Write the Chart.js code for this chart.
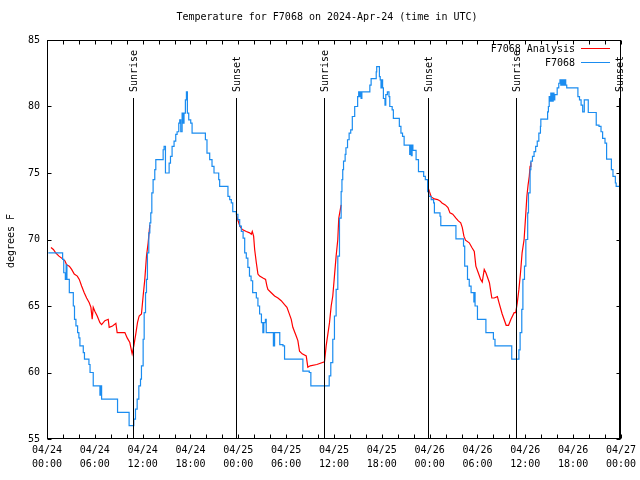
<!DOCTYPE html>
<html>
<head>
<meta charset="utf-8">
<script src="https://cdn.jsdelivr.net/npm/chart.js@4/dist/chart.umd.min.js"></script>
<style>
  html, body { margin: 0; padding: 0; background: #fff; }
  canvas { display: block; }
</style>
</head>
<body>
<canvas id="myChart" width="640" height="480"></canvas>
<script>
// hours since 04/24 00:00 UTC
var blueHours = [0.17, 1.84, 1.96, 2.1, 2.3, 2.4, 2.5, 2.8, 3.3, 3.45, 3.63, 3.84, 4.0, 4.13, 4.55, 4.7, 5.26, 5.4, 5.8, 6.43, 6.64, 6.75, 6.85, 8.85, 10.3, 10.89,
  11.1, 11.31, 11.52, 11.73, 11.85, 12.06, 12.19, 12.36, 12.48, 12.6, 12.77, 12.9, 13.02, 13.15, 13.31, 13.52, 13.65, 14.36, 14.57, 14.69, 14.86, 15.19, 15.32, 15.49,
  15.69, 15.94, 16.15, 16.32, 16.53, 16.65, 16.78, 16.95, 17.07, 17.19, 17.36, 17.49, 17.61, 17.78, 18.03, 18.2, 19.66, 19.87, 20.07, 20.41, 20.7, 20.95, 21.54, 21.66,
  22.5, 22.7, 22.92, 23.12, 23.3, 23.75, 23.95, 24.17, 24.38, 24.6, 24.8, 25.0, 25.2, 25.4, 25.6, 25.8, 26.26, 26.46, 26.67, 26.9, 27.08, 27.2, 27.4, 27.5, 28.26, 28.4,
  28.55, 28.97, 29.2, 29.6, 29.8, 31.9, 32.1, 32.9, 33.1, 35.2, 35.4, 35.6, 35.85, 36.06, 36.27, 36.48, 36.69, 36.9, 37.0, 37.1, 37.2, 37.4, 37.5, 37.7, 37.9, 38.1,
  38.3, 38.6, 38.97, 39.1, 39.2, 39.3, 39.4, 39.5, 40.4, 40.5, 40.66, 41.07, 41.3, 41.36, 41.6, 41.7, 41.8, 41.9, 42.0, 42.1, 42.2, 42.4, 42.5, 42.7, 42.9, 43.0, 43.3,
  43.45, 43.99, 44.2, 44.4, 44.6, 44.8, 45.4, 45.5, 45.6, 45.7, 45.8, 45.9, 46.3, 46.6, 47.1, 47.25, 47.46, 47.75, 47.9, 48.2, 48.5, 48.6, 49.1, 49.3, 49.4, 51.2, 51.3,
  52.1, 52.25, 52.4, 52.6, 52.75, 52.97, 53.2, 53.5, 53.55, 53.6, 53.7, 53.8, 54.0, 54.85, 55.06, 55.8, 56.0, 56.2, 58.1, 58.3, 59.0, 59.2, 59.35, 59.56, 59.7, 59.9,
  60.07, 60.3, 60.4, 60.6, 60.7, 60.9, 61.1, 61.3, 61.5, 61.7, 61.9, 61.95, 62.6, 62.8, 62.9, 63.0, 63.1, 63.2, 63.35, 63.5, 63.6, 63.7, 64.0, 64.2, 64.35, 64.45,
  64.55, 64.65, 64.75, 64.85, 64.95, 65.07, 65.2, 66.4, 66.6, 66.8, 67.0, 67.2, 67.4, 67.7, 67.9, 68.75, 68.9, 69.25, 69.5, 69.7, 70.0, 70.2, 70.6, 70.8, 71.0, 71.3,
  71.4, 71.8];
var blueTemps = [69, 69, 68.5, 67.5, 67, 68.1, 67, 66, 65, 64, 63.5, 63, 62.6, 62, 61.5, 61, 60.6, 60, 59, 59, 58.3, 59, 58, 57, 56, 56.5,
  57.25, 58, 59, 59.5, 60.5, 62.5, 64.5, 66, 67, 69, 70.5, 71.25, 72, 73.5, 74.5, 75.25, 76, 76, 76.75, 77, 75, 75, 75.75, 76.25,
  77, 77.4, 77.9, 78.1, 78.75, 79, 78.1, 79.5, 78.75, 79.5, 80.5, 81.1, 79.5, 79, 78.75, 78, 78, 77.5, 76.5, 76, 75.5, 75, 74.5, 74,
  74, 73.25, 73, 72.75, 72.1, 71.9, 71.5, 71, 70.6, 70.1, 69, 68.6, 67.9, 67.25, 66.9, 66, 65.6, 65, 64.4, 63.75, 63, 63.75, 64, 63, 63, 62,
  63, 63, 62.1, 62, 61, 61, 60.1, 60, 59, 59, 59.75, 60.75, 62.5, 64.25, 66.25, 68.75, 71.6, 73.6, 74.5, 75.25, 75.9, 76.4, 76.9, 77.5, 78, 78.25,
  79.25, 80, 80.75, 81.1, 80.75, 81.1, 80.6, 81.1, 81.1, 81.6, 82.1, 82.1, 82.6, 83, 83, 82.25, 82, 81.4, 82, 81.4, 80.6, 80.1, 80.9, 81.1, 80.75, 80, 79.75,
  79.1, 79.1, 78.5, 78, 77.75, 77.1, 77.1, 76.4, 77.1, 76.3, 77.1, 76.7, 76, 75.1, 75.1, 74.75, 74.5, 73.6, 73.25, 73, 72.75, 72, 72, 71.75, 71.05, 71.05, 70.05,
  70.05, 69.5, 68, 68, 67, 66.5, 66, 66, 65.3, 66, 65, 65, 64, 64, 63, 63, 62.5, 62, 62, 61, 61, 61.7, 63, 64.75, 67, 68,
  70, 72, 73.5, 75.25, 75.9, 76.25, 76.6, 77, 77.4, 78, 78.5, 79.05, 79.05, 79.6, 80, 80.75, 80.4, 81, 80.4, 81, 80.5, 80.9, 81.4, 81.75, 82, 81.6,
  82, 81.6, 82, 81.6, 82, 81.6, 81.4, 81.4, 80.75, 80.5, 80.1, 79.6, 80.5, 80.5, 79.55, 79.55, 78.6, 78.5, 78.1, 77.6, 77.25, 76.05, 76.05, 75.25, 74.75, 74.25,
  74, 74];

var redHours = [0.5, 0.8, 1.09, 1.5, 1.84, 2.25, 2.46, 2.8, 3.09, 3.42, 3.8, 4.05, 4.34, 4.67, 4.97, 5.3, 5.51, 5.67, 5.8, 6.0, 6.3, 6.64, 6.85, 7.26, 7.68, 7.8,
  8.22, 8.64, 8.8, 9.77, 10.06, 10.39, 10.68, 10.89, 11.14, 11.35, 11.56, 11.85, 12.06, 12.27, 12.48, 12.69, 12.9, 18,
  23.75, 24.2, 24.5, 25.0, 25.42, 25.63, 25.75, 25.92, 26.05, 26.26, 26.46, 26.67, 27.09, 27.42, 27.59, 27.71, 28.13, 28.55, 28.97, 29.38, 29.8, 30.1, 30.34,
  30.64, 30.84, 31.26, 31.47, 31.68, 32.01, 32.52, 32.72, 33.01, 33.85, 34.81, 35.02, 35.44, 35.65, 35.85, 36.06, 36.27, 36.48, 36.6, 36.9, 42,
  47.75, 48.2, 48.6, 49.0, 49.3, 49.55, 49.96, 50.3, 50.55, 50.9, 51.3, 51.6, 51.9, 52.1, 52.3, 52.5, 52.97, 53.3, 53.6, 53.8, 54.1, 54.4, 54.6, 54.85,
  55.06, 55.5, 55.8, 56.1, 56.5, 56.7, 57.1, 57.6, 57.9, 58.2, 58.6, 58.8, 59.0, 59.2, 59.4, 59.6, 59.85, 60.07, 60.2, 60.35, 60.5, 60.6, 60.7];
var redTemps = [69.4, 69.25, 69, 68.75, 68.6, 68.4, 68.1, 68, 67.75, 67.4, 67.25, 67, 66.5, 66, 65.6, 65.25, 64.9, 64, 64.9, 64.6, 64.25, 63.75, 63.6, 63.9, 64, 63.4,
  63.5, 63.7, 63, 63, 62.6, 62.25, 61.4, 62, 62.9, 63.75, 64.25, 64.4, 65.75, 67, 68.75, 69.75, 71.1, null,
  71.8, 71.0, 70.75, 70.6, 70.5, 70.4, 70.6, 70.25, 69.25, 68.25, 67.4, 67.25, 67.1, 67, 66.5, 66.25, 66, 65.75, 65.6, 65.4, 65.1, 64.9, 64.5,
  64, 63.4, 62.75, 62.4, 61.6, 61.4, 61.25, 60.4, 60.5, 60.6, 60.8, 62, 63.75, 65, 65.75, 67.25, 68.75, 70, 71.6, 72.6, null,
  74, 73.2, 73.05, 73, 72.9, 72.75, 72.6, 72.4, 72, 71.9, 71.6, 71.4, 71.25, 70.9, 70.25, 69.95, 69.75, 69.4, 69.1, 68, 67.5, 67, 66.8, 67.75,
  67.5, 66.75, 65.6, 65.6, 65.7, 65.25, 64.4, 63.55, 63.55, 64, 64.5, 64.5, 65.25, 66.25, 67.5, 69, 70, 72, 73.25, 74.1, 74.75, 75.5, 75.8];

var sunHours = [10.8, 23.7, 34.73, 47.75, 58.8, 71.8];
var sunLabels = ['Sunrise', 'Sunset', 'Sunrise', 'Sunset', 'Sunrise', 'Sunset'];

var titleText = 'Temperature for F7068 on 2024-Apr-24 (time in UTC)';
var yTitle = 'degrees F';
var FONT = '10px "DejaVu Sans Mono", "Liberation Mono", monospace';

function pts(xs, ys) {
    return xs.map(function (x, i) { return { x: x, y: ys[i] }; });
}

function pad(n) { return (n < 10 ? '0' : '') + n; }

var extras = {
    id: 'extras',
    afterDatasetsDraw: function (chart) {
        var c = chart.ctx, a = chart.chartArea, xs = chart.scales.x, ys = chart.scales.y;
        var l = Math.round(a.left) + 0.5, r = Math.round(a.right) - 0.5;
        var t = Math.round(a.top) + 0.5, b = Math.round(a.bottom) - 0.5;
        c.save();
        c.strokeStyle = '#000';
        c.lineWidth = 1;
        c.strokeRect(l, t, r - l, b - t);
        c.beginPath();
        for (var h = 0; h <= 72; h += 2) {
            var px = Math.round(xs.getPixelForValue(h)) + 0.5;
            c.moveTo(px, b); c.lineTo(px, b - 4);
            c.moveTo(px, t); c.lineTo(px, t + 4);
        }
        for (var v = 55; v <= 85; v += 5) {
            var py = Math.round(ys.getPixelForValue(v)) + 0.5;
            c.moveTo(l, py); c.lineTo(l + 4, py);
            c.moveTo(r, py); c.lineTo(r - 4, py);
        }
        c.stroke();

        // sunrise / sunset markers
        c.font = FONT;
        c.fillStyle = '#000';
        sunHours.forEach(function (hr, i) {
            var x = Math.round(xs.getPixelForValue(hr)) + 0.5;
            c.beginPath();
            c.moveTo(x, a.top + 58);
            c.lineTo(x, b);
            c.stroke();
            c.save();
            c.translate(x + 1, a.top + 52);
            c.rotate(-Math.PI / 2);
            c.textAlign = 'left';
            c.textBaseline = 'middle';
            c.fillText(sunLabels[i], 0, 0);
            c.restore();
        });

        // legend
        c.textAlign = 'right';
        c.textBaseline = 'middle';
        c.fillText('F7068 Analysis', 575, 49);
        c.fillText('F7068', 575, 63);
        c.lineWidth = 1;
        c.strokeStyle = '#ff0000';
        c.beginPath(); c.moveTo(581, 48.5); c.lineTo(610, 48.5); c.stroke();
        c.strokeStyle = '#1a8cf0';
        c.beginPath(); c.moveTo(581, 62.5); c.lineTo(610, 62.5); c.stroke();

        // title and y label
        c.textAlign = 'center';
        c.fillText(titleText, 327, 17);
        c.save();
        c.translate(11, 241);
        c.rotate(-Math.PI / 2);
        c.fillText(yTitle, 0, 0);
        c.restore();
        c.restore();
    }
};

var ctx = document.getElementById('myChart').getContext('2d');
var myChart = new Chart(ctx, {
    type: 'line',
    data: {
        datasets: [{
            label: 'F7068',
            data: pts(blueHours, blueTemps),
            borderColor: '#1a8cf0',
            borderWidth: 1.2,
            pointRadius: 0,
            stepped: true,
            fill: false
        }, {
            label: 'F7068 Analysis',
            data: pts(redHours, redTemps),
            borderColor: '#ff0000',
            borderWidth: 1.2,
            pointRadius: 0,
            spanGaps: false,
            fill: false
        }]
    },
    options: {
        responsive: false,
        animation: false,
        layout: {
            padding: { left: 0, right: 18, top: 40, bottom: 0 }
        },
        plugins: {
            legend: { display: false },
            title: { display: false },
            tooltip: { enabled: false }
        },
        scales: {
            x: {
                type: 'linear',
                min: 0,
                max: 72,
                afterFit: function (s) { s.height = 41; },
                grid: { display: false, drawTicks: false },
                border: { display: false },
                ticks: {
                    stepSize: 2,
                    autoSkip: false,
                    maxRotation: 0,
                    padding: 4,
                    color: '#000',
                    font: { family: '"DejaVu Sans Mono", "Liberation Mono", monospace', size: 10, lineHeight: 1.4 },
                    callback: function (v) {
                        if (v % 6 !== 0) return '';
                        var day = 24 + Math.floor(v / 24);
                        return ['04/' + pad(day), pad(v % 24) + ':00'];
                    }
                }
            },
            y: {
                min: 55,
                max: 85,
                afterFit: function (s) { s.width = 47; },
                grid: { display: false, drawTicks: false },
                border: { display: false },
                ticks: {
                    stepSize: 5,
                    padding: 7,
                    color: '#000',
                    font: { family: '"DejaVu Sans Mono", "Liberation Mono", monospace', size: 10 }
                }
            }
        }
    },
    plugins: [extras]
});
</script>
</body>
</html>
